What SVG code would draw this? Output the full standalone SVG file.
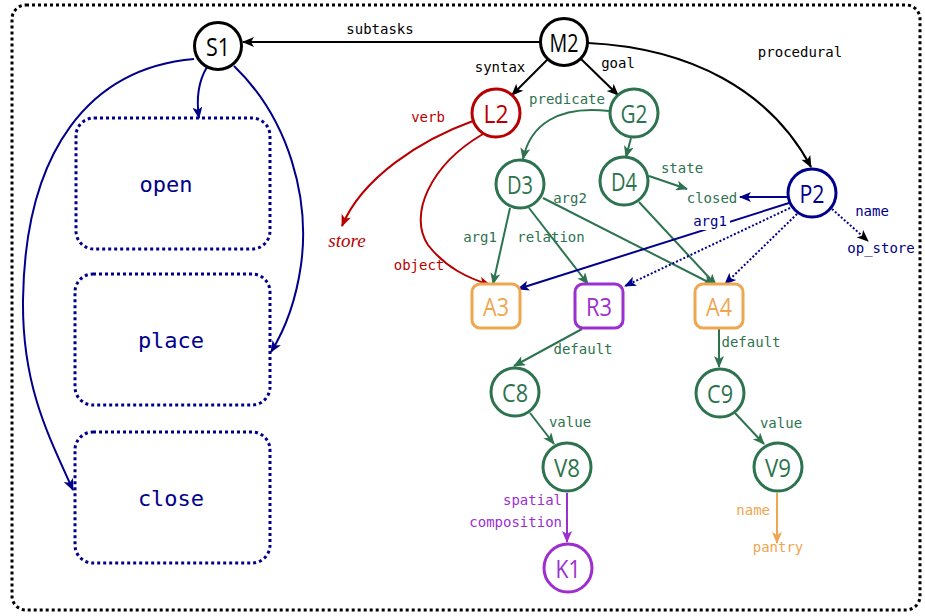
<svg xmlns="http://www.w3.org/2000/svg" width="925" height="616" viewBox="0 0 925 616">
  <style>
    .lbl { font-family: "DejaVu Sans Mono", "Liberation Mono", monospace; font-size: 14px; }
    .nd { font-family: "Open Sans", "Noto Sans", sans-serif; font-size: 25px; font-weight: 400; text-anchor: middle; dominant-baseline: central; }
    .box-t { font-family: "DejaVu Sans Mono", "Liberation Mono", monospace; font-size: 22px; text-anchor: middle; dominant-baseline: central; fill: #00008b; }
    .c { fill: #ffffff; stroke-width: 3; }
    .e { fill: none; stroke-width: 2; }
    .k { stroke: #000000; } .kt { fill: #000000; }
    .r { stroke: #b80000; } .rt { fill: #b80000; }
    .g { stroke: #2e7350; } .gt { fill: #2e7350; }
    .b { stroke: #00008b; } .bt { fill: #00008b; }
    .p { stroke: #9b2fd0; } .pt { fill: #9b2fd0; }
    .o { stroke: #eea650; } .ot { fill: #eea650; }
    .dot { stroke-dasharray: 2 2; }
    .mid { text-anchor: middle; }
    .end { text-anchor: end; }
  </style>
  <defs>
    <marker id="ah-k" viewBox="0 0 12 10" refX="11" refY="5" markerWidth="13" markerHeight="10" markerUnits="userSpaceOnUse" orient="auto"><path d="M0,0 L12,5 L0,10 L3,5 z" fill="#000000"/></marker>
    <marker id="ah-r" viewBox="0 0 12 10" refX="11" refY="5" markerWidth="13" markerHeight="10" markerUnits="userSpaceOnUse" orient="auto"><path d="M0,0 L12,5 L0,10 L3,5 z" fill="#b80000"/></marker>
    <marker id="ah-g" viewBox="0 0 12 10" refX="11" refY="5" markerWidth="13" markerHeight="10" markerUnits="userSpaceOnUse" orient="auto"><path d="M0,0 L12,5 L0,10 L3,5 z" fill="#2e7350"/></marker>
    <marker id="ah-b" viewBox="0 0 12 10" refX="11" refY="5" markerWidth="13" markerHeight="10" markerUnits="userSpaceOnUse" orient="auto"><path d="M0,0 L12,5 L0,10 L3,5 z" fill="#00008b"/></marker>
    <marker id="ah-p" viewBox="0 0 12 10" refX="11" refY="5" markerWidth="13" markerHeight="10" markerUnits="userSpaceOnUse" orient="auto"><path d="M0,0 L12,5 L0,10 L3,5 z" fill="#9b2fd0"/></marker>
    <marker id="ah-o" viewBox="0 0 12 10" refX="11" refY="5" markerWidth="13" markerHeight="10" markerUnits="userSpaceOnUse" orient="auto"><path d="M0,0 L12,5 L0,10 L3,5 z" fill="#eea650"/></marker>
  </defs>

  <rect width="925" height="616" fill="#ffffff"/>

  <!-- outer frame -->
  <rect x="12" y="5" width="908" height="605" rx="14" fill="none" stroke="#000000" stroke-width="3" stroke-dasharray="3 3"/>

  <!-- connectors -->
  <g id="connectors">
    <!-- M2 edges -->
    <line class="e k" x1="540" y1="42" x2="243" y2="42" marker-end="url(#ah-k)"/>
    <text class="lbl kt mid" x="380" y="34">subtasks</text>
    <line class="e k" x1="548" y1="59" x2="512" y2="95" marker-end="url(#ah-k)"/>
    <text class="lbl kt mid" x="500" y="72">syntax</text>
    <line class="e k" x1="581" y1="59" x2="618" y2="95" marker-end="url(#ah-k)"/>
    <text class="lbl kt mid" x="618" y="68">goal</text>
    <path class="e k" d="M588,43 C690,48 770,90 811,167" marker-end="url(#ah-k)"/>
    <text class="lbl kt mid" x="800" y="57">procedural</text>

    <!-- S1 to subtask boxes -->
    <path class="e b" d="M207,67 C198,82 196,98 199,118" marker-end="url(#ah-b)"/>
    <path class="e b" d="M234,66 C290,120 310,200 301,265 C296,300 286,328 271,352" marker-end="url(#ah-b)"/>
    <path class="e b" d="M194,59 C90,68 25,150 23,300 C22,385 48,435 73,490" marker-end="url(#ah-b)"/>

    <!-- L2 edges -->
    <path class="e r" d="M473,121 C420,140 362,178 342,226" marker-end="url(#ah-r)"/>
    <text class="lbl rt mid" x="428" y="122">verb</text>
    <path class="e r" d="M483,134 C430,165 408,215 428,245 C446,268 468,278 490,285" marker-end="url(#ah-r)"/>
    <text class="lbl rt mid" x="419" y="270">object</text>

    <!-- G2 edges -->
    <path class="e g" d="M609,111 C558,105 530,125 523,159" marker-end="url(#ah-g)"/>
    <text class="lbl gt mid" x="567" y="104">predicate</text>
    <line class="e g" x1="631" y1="138" x2="626" y2="157" marker-end="url(#ah-g)"/>

    <!-- D4 edges -->
    <line class="e g" x1="649" y1="176" x2="687" y2="189" marker-end="url(#ah-g)"/>
    <text class="lbl gt mid" x="682" y="173">state</text>
    <line class="e g" x1="639" y1="202" x2="716" y2="285" marker-end="url(#ah-g)"/>

    <!-- D3 edges -->
    <line class="e g" x1="510" y1="208" x2="493" y2="284" marker-end="url(#ah-g)"/>
    <text class="lbl gt mid" x="480" y="242">arg1</text>
    <line class="e g" x1="529" y1="208" x2="588" y2="284" marker-end="url(#ah-g)"/>
    <text class="lbl gt mid" x="551" y="242">relation</text>
    <line class="e g" x1="543" y1="198" x2="714" y2="285" marker-end="url(#ah-g)"/>
    <text class="lbl gt mid" x="570" y="203">arg2</text>

    <!-- P2 edges -->
    <line class="e b" x1="787" y1="197" x2="740" y2="197" marker-end="url(#ah-b)"/>
    <line class="e b" x1="789" y1="203" x2="518" y2="289" marker-end="url(#ah-b)"/>
    <rect x="690" y="212" width="40" height="18" fill="#ffffff"/>
    <text class="lbl bt mid" x="710" y="226">arg1</text>
    <line class="e b dot" x1="790" y1="208" x2="625" y2="286" marker-end="url(#ah-b)"/>
    <line class="e b dot" x1="797" y1="214" x2="725" y2="284" marker-end="url(#ah-b)"/>
    <line class="e b dot" x1="832" y1="209" x2="868" y2="241" marker-end="url(#ah-k)"/>
    <text class="lbl bt mid" x="872" y="216">name</text>

    <!-- lower chains -->
    <line class="e g" x1="582" y1="329" x2="514" y2="366" marker-end="url(#ah-g)"/>
    <text class="lbl gt mid" x="583" y="354">default</text>
    <line class="e g" x1="719" y1="329" x2="719" y2="367" marker-end="url(#ah-g)"/>
    <text class="lbl gt mid" x="751" y="347">default</text>
    <line class="e g" x1="530" y1="413" x2="554" y2="444" marker-end="url(#ah-g)"/>
    <text class="lbl gt mid" x="570" y="427">value</text>
    <line class="e g" x1="735" y1="413" x2="764" y2="444" marker-end="url(#ah-g)"/>
    <text class="lbl gt mid" x="781" y="428">value</text>
    <line class="e p" x1="567" y1="493" x2="567" y2="542" marker-end="url(#ah-p)"/>
    <text class="lbl pt end" x="562" y="505">spatial</text>
    <text class="lbl pt end" x="562" y="527">composition</text>
    <line class="e o" x1="777" y1="493" x2="777" y2="543" marker-end="url(#ah-o)"/>
    <text class="lbl ot end" x="770" y="515">name</text>
  </g>

  <!-- subtask boxes -->
  <g id="open">
    <rect x="76" y="118" width="194" height="131" rx="18" fill="none" stroke="#00008b" stroke-width="3" stroke-dasharray="3 3"/>
    <text class="box-t" x="166" y="184">open</text>
  </g>
  <g id="place">
    <rect x="75" y="274" width="195" height="131" rx="18" fill="none" stroke="#00008b" stroke-width="3" stroke-dasharray="3 3"/>
    <text class="box-t" x="171" y="340">place</text>
  </g>
  <g id="close">
    <rect x="75" y="432" width="195" height="131" rx="18" fill="none" stroke="#00008b" stroke-width="3" stroke-dasharray="3 3"/>
    <text class="box-t" x="171" y="498">close</text>
  </g>

  <!-- graph nodes -->
  <g id="S1"><circle class="c k" cx="218" cy="46" r="23.5"/><text class="nd kt" x="218" y="46" textLength="24" lengthAdjust="spacingAndGlyphs">S1</text></g>
  <g id="M2"><circle class="c k" cx="564" cy="42" r="23.5"/><text class="nd kt" x="564" y="42" textLength="29" lengthAdjust="spacingAndGlyphs">M2</text></g>
  <g id="L2"><circle class="c r" cx="496" cy="113" r="24"/><text class="nd rt" x="496" y="113" textLength="25" lengthAdjust="spacingAndGlyphs">L2</text></g>
  <g id="G2"><circle class="c g" cx="634" cy="113" r="24"/><text class="nd gt" x="634" y="113" textLength="27" lengthAdjust="spacingAndGlyphs">G2</text></g>
  <g id="D3"><circle class="c g" cx="520" cy="184" r="24"/><text class="nd gt" x="520" y="184" textLength="26" lengthAdjust="spacingAndGlyphs">D3</text></g>
  <g id="D4"><circle class="c g" cx="624" cy="181" r="24"/><text class="nd gt" x="624" y="181" textLength="26" lengthAdjust="spacingAndGlyphs">D4</text></g>
  <g id="P2"><circle class="c b" cx="812" cy="193" r="24"/><text class="nd bt" x="812" y="193" textLength="25" lengthAdjust="spacingAndGlyphs">P2</text></g>
  <g id="A3"><rect class="c o" x="472" y="284" width="48" height="44" rx="8"/><text class="nd ot" x="496" y="306" textLength="26" lengthAdjust="spacingAndGlyphs">A3</text></g>
  <g id="R3"><rect class="c p" x="575" y="284" width="48" height="44" rx="8"/><text class="nd pt" x="599" y="306" textLength="26" lengthAdjust="spacingAndGlyphs">R3</text></g>
  <g id="A4"><rect class="c o" x="695" y="284" width="48" height="44" rx="8"/><text class="nd ot" x="719" y="306" textLength="26" lengthAdjust="spacingAndGlyphs">A4</text></g>
  <g id="C8"><circle class="c g" cx="515" cy="392" r="24"/><text class="nd gt" x="515" y="392" textLength="26" lengthAdjust="spacingAndGlyphs">C8</text></g>
  <g id="C9"><circle class="c g" cx="720" cy="393" r="24"/><text class="nd gt" x="720" y="393" textLength="26" lengthAdjust="spacingAndGlyphs">C9</text></g>
  <g id="V8"><circle class="c g" cx="567" cy="467" r="24"/><text class="nd gt" x="567" y="467" textLength="26" lengthAdjust="spacingAndGlyphs">V8</text></g>
  <g id="V9"><circle class="c g" cx="778" cy="467" r="24"/><text class="nd gt" x="778" y="467" textLength="26" lengthAdjust="spacingAndGlyphs">V9</text></g>
  <g id="K1"><circle class="c p" cx="568" cy="568" r="24"/><text class="nd pt" x="568" y="568" textLength="25" lengthAdjust="spacingAndGlyphs">K1</text></g>

  <!-- value leaves -->
  <g id="store"><text x="347" y="247" font-family="Liberation Serif, serif" font-style="italic" font-size="19" fill="#b80000" text-anchor="middle">store</text></g>
  <g id="closed"><text class="lbl gt mid" x="712" y="203">closed</text></g>
  <g id="op_store"><text class="lbl bt mid" x="881" y="253">op_store</text></g>
  <g id="pantry"><text class="lbl ot mid" x="778" y="552">pantry</text></g>
</svg>
